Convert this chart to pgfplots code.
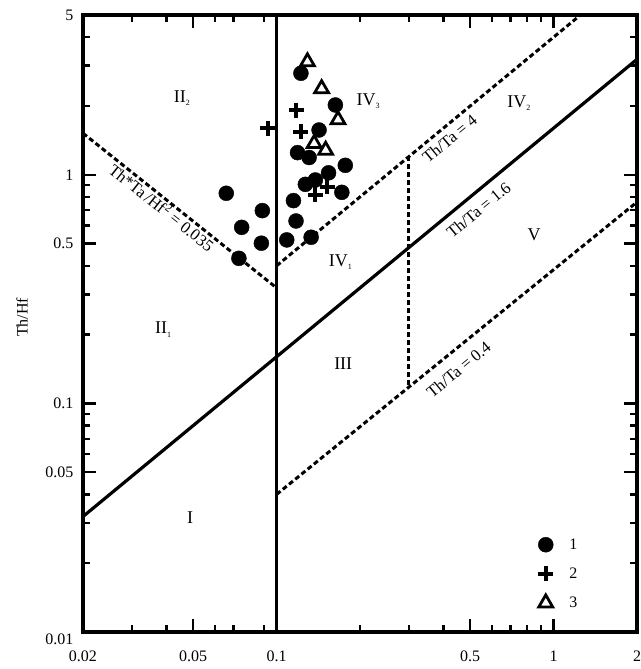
\documentclass[border=0pt]{standalone}
\usepackage{fontspec}
\setmainfont{Liberation Serif}
\usepackage{pgfplots}
\pgfplotsset{compat=1.18}
\newcommand\sub[1]{\raisebox{-0.4ex}{\fontsize{8}{9}\selectfont #1}}
\begin{document}
\begin{tikzpicture}
\begin{axis}[
 name=ax,
 xmode=log, ymode=log,
 scale only axis, width=554pt, height=617pt,
 xmin=0.02, xmax=2, ymin=0.01, ymax=5,
 xtick={0.02,0.05,0.1,0.5,1,2}, xticklabels={0.02,0.05,0.1,0.5,1,2},
 ytick={0.01,0.05,0.1,0.5,1,5}, yticklabels={\raisebox{-12pt}[0pt][0pt]{0.01},0.05,0.1,0.5,1,5},
 minor xtick={0.03,0.04,0.06,0.07,0.09,0.2,0.3,0.4,0.6,0.7,0.8,0.9},
 minor ytick={0.02,0.03,0.04,0.06,0.07,0.08,0.09,0.2,0.3,0.4,0.6,0.7,0.8,0.9,2,3,4},
 axis line style={line width=4.5pt},
 major tick length=13pt, minor tick length=7pt,
 tick style={black, line width=2.5pt},
 tick label style={font=\fontsize{16}{18}\selectfont},
 xticklabel style={yshift=-15pt},
 yticklabel style={xshift=-6pt},
 ylabel={Th/Hf},
 ylabel style={at={(axis description cs:-0.110,0.51)}, anchor=center, font=\fontsize{16}{18}\selectfont},
 legend style={at={(rel axis cs:0.816,0.158)}, anchor=north west, draw=none, fill=none,
   font=\fontsize{16}{18}\selectfont, row sep=13pt, column sep=14pt},
 legend cell align=left,
 clip=false,
]
% boundary lines
\addplot[forget plot, black, line width=2.6pt] coordinates {(0.1,0.01) (0.1,5)};
\addplot[forget plot, black, line width=3.2pt] coordinates {(0.02,0.032) (2,3.2)};
\addplot[forget plot, black, line width=3pt, dash pattern=on 5pt off 3pt] coordinates {(0.1,0.4) (1.25,5)};
\addplot[forget plot, black, line width=3pt, dash pattern=on 5pt off 3pt] coordinates {(0.1,0.04) (2,0.76)};
\addplot[forget plot, black, line width=2.6pt, dash pattern=on 5pt off 3pt] coordinates {(0.3,0.12) (0.3,1.2)};
\addplot[forget plot, black, line width=3pt, dash pattern=on 5pt off 3pt] coordinates {(0.02,1.52) (0.1,0.32)};
% data
\addplot[only marks, mark=*, mark size=7.5pt, mark options={fill=black, draw=black}] coordinates {
 (0.1224,2.78) (0.163,2.02) (0.1423,1.57) (0.119,1.25) (0.131,1.19)
 (0.177,1.10) (0.154,1.02) (0.138,0.949) (0.127,0.908) (0.172,0.838)
 (0.0658,0.830) (0.115,0.771) (0.0888,0.697) (0.0748,0.589) (0.1175,0.628)
 (0.0881,0.502) (0.1088,0.519) (0.1332,0.533) (0.0731,0.431)};
\addlegendentry{1}
\addplot[only marks, mark=+, mark size=7.5pt, mark options={line width=4pt, black}] coordinates {
 (0.1175,1.92) (0.0930,1.60) (0.1224,1.54) (0.1522,0.887) (0.1377,0.816)};
\addlegendentry{2}
\addplot[only marks, mark=triangle, mark size=8pt, mark options={line width=2.8pt, black, fill=white}] coordinates {
 (0.1292,3.12) (0.1454,2.38) (0.1666,1.74) (0.1366,1.37) (0.1503,1.28)};
\addlegendentry{3}
% region labels
\begin{scope}[every node/.style={font=\fontsize{18}{20}\selectfont}]
\node at (axis cs:0.0455,2.17) {II\sub{2}};
\node at (axis cs:0.214,2.10) {IV\sub{3}};
\node at (axis cs:0.75,2.06) {IV\sub{2}};
\node at (axis cs:0.17,0.415) {IV\sub{1}};
\node at (axis cs:0.85,0.546) {V};
\node at (axis cs:0.0389,0.21) {II\sub{1}};
\node at (axis cs:0.174,0.15) {III};
\node at (axis cs:0.0487,0.0318) {I};
\end{scope}
\begin{scope}[every node/.style={font=\fontsize{16.5}{18}\selectfont}]
\node[rotate=39.5] at (axis cs:0.421,1.435) {Th/Ta = 4};
\node[rotate=39.5] at (axis cs:0.536,0.701) {Th/Ta = 1.6};
\node[rotate=39.5] at (axis cs:0.454,0.1406) {Th/Ta = 0.4};
\node[rotate=-38.6] at (axis cs:0.0386,0.723) {Th*Ta\,/Hf\textsuperscript{2} = 0.035};
\end{scope}
\end{axis}
\pgfresetboundingbox
\path ([shift={(-83pt,-37pt)}]ax.south west) rectangle ([shift={(3pt,15pt)}]ax.north east);
\end{tikzpicture}
\end{document}
